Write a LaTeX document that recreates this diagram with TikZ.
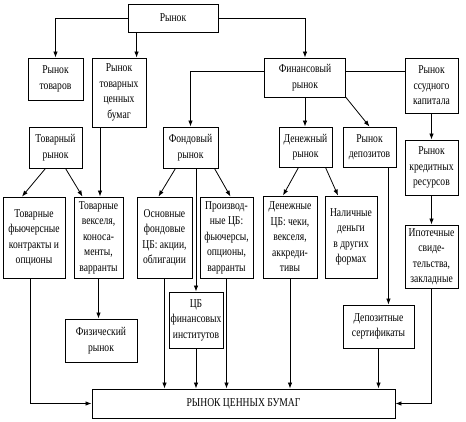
\documentclass[tikz,border=0pt]{standalone}
\usepackage{fontspec}
\setmainfont{Liberation Serif}[FakeStretch=0.8]
\usetikzlibrary{arrows.meta}

\begin{document}
\begin{tikzpicture}[x=1pt,y=-1pt,
  every node/.style={font=\fontsize{12}{15.5}\selectfont},
  bx/.style 2 args={draw,line width=0.9pt,align=center,inner sep=1pt,minimum width=#1pt,minimum height=#2pt},
  ar/.style={-{Latex[length=6pt,width=4.5pt]},line width=0.8pt},
  ln/.style={line width=0.8pt}]
\useasboundingbox (0,0) rectangle (466,422);
\node[bx={90}{28}] (rynok) at (173,18) {Рынок};
\node[bx={55}{42}] (rtov) at (55.5,79) {Рынок\\товаров};
\node[bx={54}{69}] (rtcb) at (119,92.5) {Рынок\\товарных\\ценных\\бумаг};
\node[bx={81}{39}] (fin) at (305,77.5) {Финансовый\\рынок};
\node[bx={53}{55}] (ssud) at (431.5,85.5) {Рынок\\ссудного\\капитала};
\node[bx={53}{41}] (tovr) at (55.5,147.5) {Товарный\\рынок};
\node[bx={55}{41}] (fond) at (190.5,147.5) {Фондовый\\рынок};
\node[bx={53}{40}] (den) at (305.5,147) {Денежный\\рынок};
\node[bx={53}{40}] (depm) at (369.5,147) {Рынок\\депозитов};
\node[bx={53}{55}] (kred) at (431.5,167.5) {Рынок\\кредитных\\ресурсов};
\node[bx={62}{81}] (fut) at (34,237.5) {Товарные\\фьючерсные\\контракты и\\опционы};
\node[bx={49}{81}] (veks) at (98.5,237.5) {Товарные\\векселя,\\коноса-\\менты,\\варранты};
\node[bx={55}{81}] (osn) at (164.5,237.5) {Основные\\фондовые\\ЦБ: акции,\\облигации};
\node[bx={53}{81}] (proiz) at (226.5,237.5) {Производ-\\ные ЦБ:\\фьючерсы,\\опционы,\\варранты};
\node[bx={54}{82}] (dcb) at (290,237) {Денежные\\ЦБ: чеки,\\векселя,\\аккреди-\\тивы};
\node[bx={52}{82}] (nal) at (351,237) {Наличные\\деньги\\в других\\формах};
\node[bx={53}{63}] (ipot) at (431.5,256.5) {Ипотечные\\свиде-\\тельства,\\закладные};
\node[bx={54}{56}] (cbfi) at (196,320) {ЦБ\\финансовых\\институтов};
\node[bx={72}{43}] (fiz) at (101,340.5) {Физический\\рынок};
\node[bx={71}{43}] (dsert) at (378.5,326.5) {Депозитные\\сертификаты};
\node[bx={303}{29}] (rcb) at (243.5,403.5) {РЫНОК ЦЕННЫХ БУМАГ};
\draw[ar] (rynok.west) -| (rtov.north);
\draw[ar] ([xshift=9pt]rynok.south west) -- ([xshift=9pt]rynok.south west |- rtcb.north);
\draw[ar] (rynok.east) -| (fin.north);
\draw[ar] ([yshift=6.5pt]fin.west) -| (fond.north);
\draw[ln] ([yshift=6.5pt]fin.east) -- ([yshift=6.5pt]fin.east -| ssud.west);
\draw[ar] (fin.south) -- (fin.south |- den.north);
\draw[ar] (fin.south east) -- (depm.north);
\draw[ar] (ssud.south) -- (kred.north);
\draw[ar] (kred.south) -- (ipot.north);
\draw[ar] ([xshift=-10pt]tovr.south) -- ([xshift=-12pt]fut.north);
\draw[ar] ([xshift=10pt]tovr.south) -- ([xshift=-16pt]veks.north);
\draw[ar] ([xshift=-19pt]rtcb.south) -- ([xshift=-19pt]rtcb.south |- veks.north);
\draw[ar] ([xshift=-15pt]fond.south) -- ([xshift=-6pt]osn.north);
\draw[ar] ([xshift=24pt]fond.south) -- ([xshift=4pt]proiz.north);
\draw[ar] (cbfi.north |- fond.south) -- (cbfi.north);
\draw[ar] ([xshift=-7pt]den.south) -- ([xshift=-7pt]dcb.north);
\draw[ar] ([xshift=20pt]den.south) -- ([xshift=-13pt]nal.north);
\draw[ar] ([xshift=-8pt]depm.south east) -- ([xshift=-8pt]depm.south east |- dsert.north);
\draw[ar] (veks.south) -- (veks.south |- fiz.north);
\draw[ar] ([xshift=-4pt]fut.south) |- (rcb.west);
\draw[ar] (osn.south) -- (osn.south |- rcb.north);
\draw[ar] (cbfi.south) -- (cbfi.south |- rcb.north);
\draw[ar] (proiz.south) -- (proiz.south |- rcb.north);
\draw[ar] (dcb.south) -- (dcb.south |- rcb.north);
\draw[ar] (dsert.south) -- (dsert.south |- rcb.north);
\draw[ar] (ipot.south) |- (rcb.east);
\end{tikzpicture}
\end{document}
